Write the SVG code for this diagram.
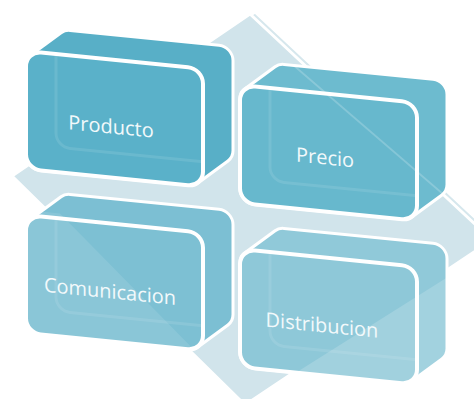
<svg xmlns="http://www.w3.org/2000/svg" width="474" height="399" viewBox="0 0 474 399">
  <style>
    .dia{fill:#d1e4eb;stroke:#ffffff;stroke-width:3;stroke-linejoin:round}
    .body{stroke:#ffffff;stroke-width:3;stroke-linejoin:round}
    .face{stroke:#ffffff;stroke-width:4}
    .ghost{fill:none;stroke:#ffffff;stroke-opacity:0.1;stroke-width:3}
    .lbl{font-family:"Open Sans","Liberation Sans",sans-serif;font-size:20px;fill:#f2f9fb;text-anchor:middle}
  </style>
  <defs>
    <path id="bodyShape" d="M 5.04 3.25 L 35.04 -21.75 A 14 14 0 0 1 44 -25 L 193 -25 A 14 14 0 0 1 207 -11 L 207 79 A 14 14 0 0 1 201.96 89.75 L 171.96 114.75 A 14 14 0 0 1 163 118 L 14 118 A 14 14 0 0 1 0 104 L 0 14 A 14 14 0 0 1 5.04 3.25 Z"/>
    <rect id="faceShape" x="0" y="0" width="177" height="118" rx="15"/>
    <clipPath id="clipFace"><rect x="0" y="0" width="177" height="118" rx="15"/></clipPath>
    <clipPath id="clipBody"><path d="M 5.04 3.25 L 35.04 -21.75 A 14 14 0 0 1 44 -25 L 193 -25 A 14 14 0 0 1 207 -11 L 207 79 A 14 14 0 0 1 201.96 89.75 L 171.96 114.75 A 14 14 0 0 1 163 118 L 14 118 A 14 14 0 0 1 0 104 L 0 14 A 14 14 0 0 1 5.04 3.25 Z"/></clipPath>
  </defs>

  <g id="background">
    <polygon class="dia" points="255,12 497,238 250,403 17,174" fill-opacity="0.9"/>
    <polygon class="dia" points="250,14 492,240 245,405 12,176"/>
  </g>

  <g id="connectors"></g>

  <g id="producto" transform="translate(26,51) skewY(5.7)">
    <use href="#bodyShape" class="body" fill="#58afc7"/>
    <use href="#faceShape" class="face" fill="#5ab1c9"/>
    <rect class="ghost" x="30" y="-25" width="177" height="118" rx="14" clip-path="url(#clipFace)"/>
    <text class="lbl" x="85" y="74">Producto</text>
  </g>

  <g id="precio" transform="translate(240,85) skewY(5.7)">
    <use href="#bodyShape" class="body" fill="#6dbbcf"/>
    <use href="#faceShape" class="face" fill="#67b8cd"/>
    <rect class="ghost" x="30" y="-25" width="177" height="118" rx="14" clip-path="url(#clipFace)"/>
    <g clip-path="url(#clipBody)">
      <line x1="47" y1="-30" x2="215" y2="98" stroke="#ffffff" stroke-opacity="0.2" stroke-width="2"/>
    </g>
    <text class="lbl" x="85" y="71">Precio</text>
  </g>

  <g id="comunicacion" transform="translate(26,215) skewY(5.7)">
    <use href="#bodyShape" class="body" fill="#7cbfd3"/>
    <use href="#faceShape" class="face" fill="#7dc0d3"/>
    <g clip-path="url(#clipBody)">
      <polygon points="34,-5 192,140 -10,140 -10,-5" fill="#ffffff" fill-opacity="0.1"/>
    </g>
    <rect class="ghost" x="30" y="-25" width="177" height="118" rx="14" clip-path="url(#clipFace)"/>
    <text class="lbl" x="84" y="75">Comunicacion</text>
  </g>

  <g id="distribucion" transform="translate(240,249) skewY(5.7)">
    <use href="#bodyShape" class="body" fill="#90c9d9"/>
    <use href="#faceShape" class="face" fill="#8ec8d8"/>
    <g clip-path="url(#clipBody)">
      <polygon points="30,137 230,-9 230,140 30,140" fill="#ffffff" fill-opacity="0.17"/>
    </g>
    <rect class="ghost" x="30" y="-25" width="177" height="118" rx="14" clip-path="url(#clipFace)"/>
    <text class="lbl" x="82" y="75">Distribucion</text>
  </g>
</svg>
